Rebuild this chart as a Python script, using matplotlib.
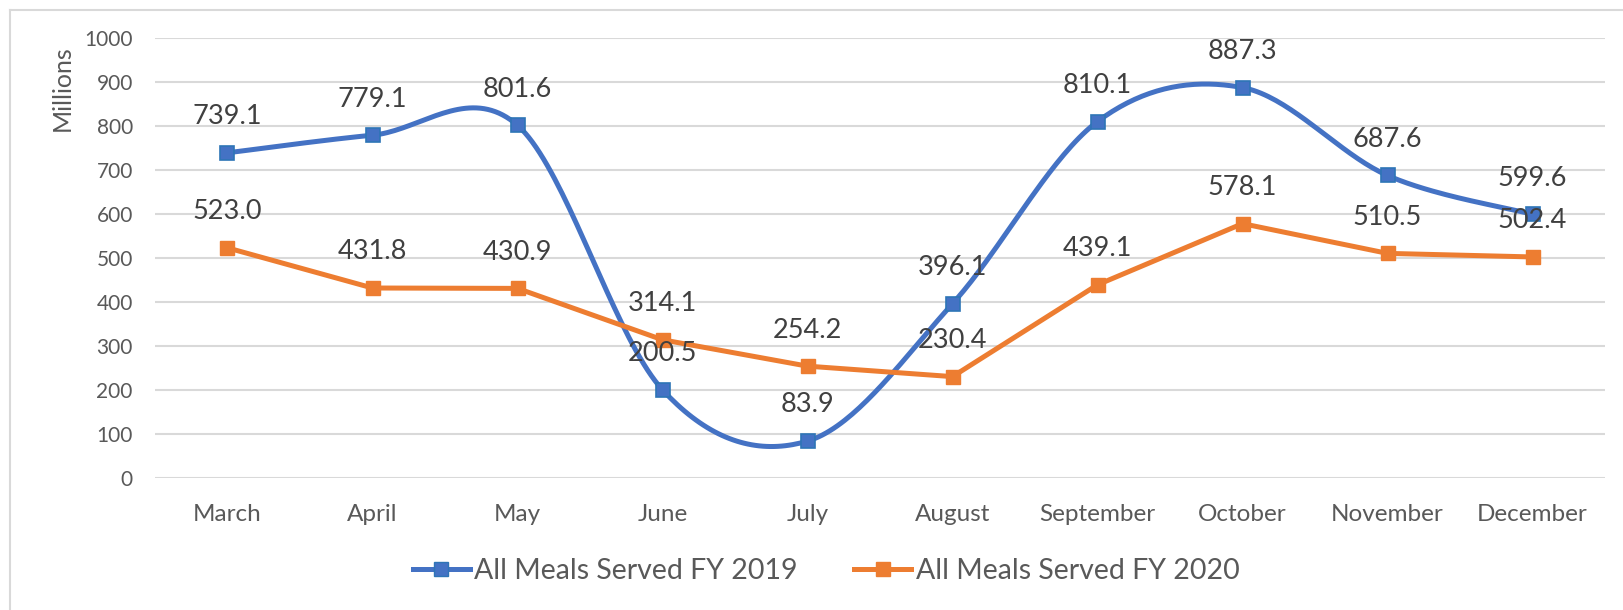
import numpy as np
import matplotlib
matplotlib.use('Agg')
import matplotlib.pyplot as plt
from matplotlib.lines import Line2D

months = ['March', 'April', 'May', 'June', 'July', 'August',
          'September', 'October', 'November', 'December']
fy2019 = [739.1, 779.1, 801.6, 200.5, 83.9, 396.1, 810.1, 887.3, 687.6, 599.6]
fy2020 = [523.0, 431.8, 430.9, 314.1, 254.2, 230.4, 439.1, 578.1, 510.5, 502.4]
yticks = [0, 100, 200, 300, 400, 500, 600, 700, 800, 900, 1000]

blue = '#4472C4'
orange = '#ED7D31'
text_col = '#404040'
tick_col = '#595959'

plt.rcParams['font.family'] = ['Lato', 'DejaVu Sans']


def smooth(xs, ys, n=40):
    # Excel-style smoothing: cubic Bezier with Catmull-Rom control points
    xs = np.asarray(xs, float)
    ys = np.asarray(ys, float)
    px = np.concatenate([[xs[0]], xs, [xs[-1]]])
    py = np.concatenate([[ys[0]], ys, [ys[-1]]])
    out_x, out_y = [], []
    t = np.linspace(0, 1, n)
    for i in range(1, len(px) - 2):
        p0 = np.array([px[i], py[i]])
        p3 = np.array([px[i + 1], py[i + 1]])
        c1 = p0 + (np.array([px[i + 1], py[i + 1]]) - np.array([px[i - 1], py[i - 1]])) / 6
        c2 = p3 - (np.array([px[i + 2], py[i + 2]]) - np.array([px[i], py[i]])) / 6
        b = ((1 - t) ** 3)[:, None] * p0 + (3 * (1 - t) ** 2 * t)[:, None] * c1 \
            + (3 * (1 - t) * t ** 2)[:, None] * c2 + (t ** 3)[:, None] * p3
        out_x.extend(b[:, 0])
        out_y.extend(b[:, 1])
    return out_x, out_y


fig = plt.figure(figsize=(16.24, 6.10), dpi=100)
ax = fig.add_axes([155 / 1624, 1 - 478 / 610, 1450 / 1624, 440 / 610])

x = np.arange(len(months))
sx, sy = smooth(x, fy2019)
ax.plot(sx, sy, color=blue, lw=3.6, zorder=3, solid_capstyle='round')
ax.plot(x, fy2019, ls='none', marker='s', ms=9.5, mfc=blue, mec='#2E75B6',
        mew=1.2, zorder=4)
ax.plot(x, fy2020, color=orange, lw=3.6, marker='s', ms=9.5, mfc=orange,
        mec=orange, zorder=3)

for xi, v in zip(x, fy2019):
    ax.annotate(f'{v:.1f}', (xi, v), xytext=(0, 26), textcoords='offset points',
                ha='center', va='center', fontsize=19.5, color=text_col, zorder=5)
for xi, v in zip(x, fy2020):
    ax.annotate(f'{v:.1f}', (xi, v), xytext=(0, 26), textcoords='offset points',
                ha='center', va='center', fontsize=19.5, color=text_col, zorder=5)

ax.set_xlim(-0.5, len(months) - 0.5)
ax.set_ylim(0, 1000)
ax.set_yticks(yticks)
ax.set_xticks(x)
ax.set_xticklabels(months)
ax.grid(axis='y', color='#D9D9D9', lw=1.5)
ax.set_axisbelow(True)
for s in ax.spines.values():
    s.set_visible(False)
ax.tick_params(length=0, labelcolor=tick_col)
ax.tick_params(axis='x', pad=18.5, labelsize=17.5)
ax.tick_params(axis='y', pad=16, labelsize=15)

fig.text(62 / 1624, 1 - 88 / 610, 'Millions', rotation=90, ha='center',
         va='center', fontsize=18, color=tick_col)

handles = [
    Line2D([], [], color=blue, lw=3.6, marker='s', ms=9.5, mfc=blue, mec='#2E75B6'),
    Line2D([], [], color=orange, lw=3.6, marker='s', ms=9.5, mfc=orange, mec=orange),
]
fig.legend(handles, ['All Meals Served FY 2019', 'All Meals Served FY 2020'],
           loc='center', bbox_to_anchor=(826 / 1624, 1 - 571 / 610), ncol=2,
           frameon=False, fontsize=20.5, labelcolor=tick_col, handlelength=2.0,
           handletextpad=0.15, columnspacing=2.0)

# outer chart frame (only top and left edges visible in the crop)
fig.add_artist(Line2D([10 / 1624, 10 / 1624], [0, 1 - 10 / 610],
                      transform=fig.transFigure, color='#D9D9D9', lw=1.5))
fig.add_artist(Line2D([10 / 1624, 1], [1 - 10 / 610, 1 - 10 / 610],
                      transform=fig.transFigure, color='#D9D9D9', lw=1.5))

fig.savefig('out.png', dpi=100)
